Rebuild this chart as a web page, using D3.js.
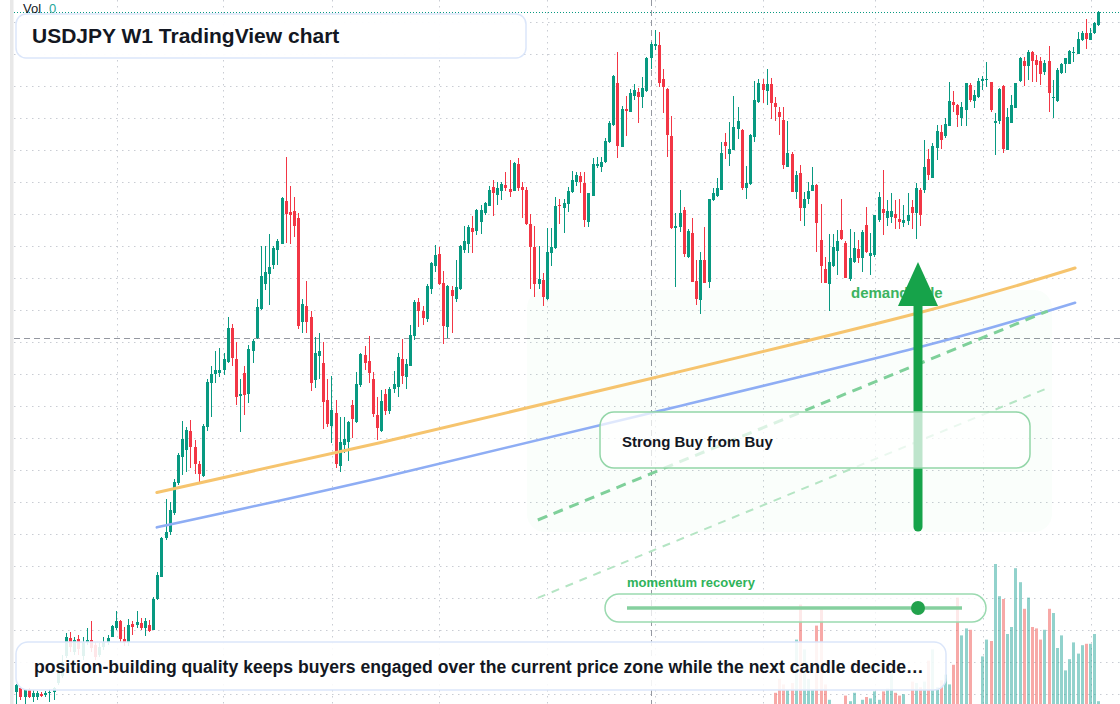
<!DOCTYPE html>
<html>
<head>
<meta charset="utf-8">
<script src="https://cdn.jsdelivr.net/npm/d3@7"></script>
<style>
  html, body { margin: 0; padding: 0; background: #fff; }
  svg { display: block; font-family: "Liberation Sans", Arial, Helvetica, sans-serif; }
</style>
</head>
<body>
<svg class="main" width="1120" height="704"></svg>
<script>
// weekly candles, oldest first: [open, high, low, close]
const candles = [
  [120.17,120.65,119.28,120.59],[120.42,120.48,119.65,119.86],[119.86,120.34,119.28,120.28],[120.28,120.38,119.78,119.82],
  [119.86,120.28,119.54,120.07],[119.86,120.23,119.65,120.07],[120.03,120.17,119.86,119.92],[119.94,120.23,119.86,120.11],
  [120.07,120.32,119.54,120.17],[120.17,120.48,119.65,120.38],[120.71,121.53,120.59,121.34],[121.15,122.46,121.03,122.04],
  [122.40,123.82,122.28,123.61],[123.54,123.90,122.67,122.98],[122.67,123.61,122.46,123.40],[123.46,123.71,122.46,122.84],
  [122.40,123.61,122.15,123.29],[123.29,124.13,123.09,123.40],[123.40,124.59,122.65,122.90],[123.09,123.28,122.15,122.36],
  [122.46,123.21,122.34,122.98],[122.98,123.61,122.78,123.29],[123.29,123.71,123.09,123.51],[123.61,124.34,123.57,124.28],
  [124.13,125.23,124.03,124.59],[124.59,124.65,123.29,123.44],[123.44,124.23,123.03,123.29],[123.29,124.69,123.03,124.34],
  [124.40,124.59,123.71,124.23],[124.34,125.23,124.13,124.54],[124.48,124.76,124.03,124.13],[124.13,124.76,123.65,124.59],
  [124.34,124.65,123.92,123.98],[124.03,126.06,124.00,125.96],[125.96,127.67,125.93,127.46],[127.36,129.86,127.34,129.76],
  [129.76,132.19,129.65,130.17],[130.17,132.04,129.96,131.53],[131.32,133.44,131.20,133.29],[133.19,135.07,133.09,134.96],
  [134.86,137.09,133.71,135.96],[135.28,136.73,133.92,136.53],[136.46,137.15,134.13,135.48],[135.48,135.90,133.76,134.40],
  [134.40,134.59,133.26,133.76],[133.65,136.90,133.61,136.79],[136.73,139.73,136.48,139.54],[139.48,140.53,137.32,140.03],
  [140.01,141.46,139.48,140.28],[140.11,141.63,139.82,140.28],[140.28,141.32,139.96,140.96],[140.79,143.61,140.70,142.88],
  [142.88,143.13,140.54,141.01],[140.96,142.04,138.09,138.61],[138.65,139.71,136.42,138.78],[140.07,140.53,137.46,138.71],
  [138.78,141.84,138.19,141.59],[141.48,142.21,140.73,142.09],[142.26,144.71,142.19,144.19],[144.09,148.03,144.03,146.15],
  [145.65,148.03,145.28,146.40],[146.28,148.78,144.34,146.73],[146.84,148.03,146.59,147.88],[147.78,148.44,146.84,148.34],
  [148.15,151.11,148.12,151.04],[150.84,153.61,148.19,150.03],[150.17,151.79,148.15,149.96],[150.21,151.11,148.61,149.28],
  [149.79,150.11,142.82,143.03],[143.29,144.71,142.57,144.38],[144.29,145.86,142.57,143.29],[143.61,143.98,138.98,139.48],
  [139.65,142.36,139.13,141.36],[141.17,142.61,139.69,141.48],[140.73,142.04,136.57,138.29],[138.40,139.69,136.73,136.90],
  [136.79,139.90,135.73,137.78],[137.61,138.40,134.13,134.38],[134.29,137.36,133.92,135.79],[135.59,137.36,135.07,135.96],
  [135.79,137.09,134.61,137.04],[138.09,138.40,136.01,137.19],[137.04,140.17,136.95,139.40],[139.34,141.35,139.23,141.28],
  [141.21,141.78,140.28,140.69],[140.86,142.40,139.44,140.07],[139.71,140.17,137.36,137.53],[137.46,138.61,135.90,136.63],
  [136.48,139.03,136.42,138.34],[138.78,139.09,137.46,137.73],[137.73,139.23,137.53,139.09],[139.09,140.21,138.82,139.40],
  [139.19,141.36,138.57,141.11],[140.94,142.21,139.40,139.92],[139.82,140.94,139.09,140.65],[140.54,143.09,140.50,142.46],
  [142.42,144.65,142.15,144.51],[144.51,144.78,142.94,143.98],[143.98,144.29,143.09,143.51],[143.46,145.63,143.29,145.54],
  [145.34,147.01,145.03,146.94],[146.78,148.09,146.42,147.46],[147.53,147.98,145.59,145.65],[145.69,146.46,141.88,143.04],
  [142.98,145.59,142.26,145.54],[145.28,145.53,142.57,144.90],[144.71,147.15,144.54,145.44],[145.34,148.06,145.28,148.03],
  [147.78,149.28,147.57,148.34],[148.15,149.34,147.61,149.19],[149.13,149.90,147.61,148.92],[148.98,150.32,148.71,150.28],
  [149.54,150.59,148.78,150.28],[150.11,150.79,149.96,150.73],[150.53,151.79,150.50,151.53],[151.73,152.15,149.90,151.36],
  [151.21,152.04,150.59,151.67],[151.48,152.01,150.90,151.88],[151.84,152.63,151.48,151.67],[151.57,153.40,151.11,151.42],
  [151.48,153.29,151.45,153.23],[153.15,153.51,151.46,151.67],[151.69,152.01,149.79,151.53],[151.53,151.73,149.34,149.40],
  [149.40,150.03,145.34,147.98],[147.98,149.28,144.86,145.65],[145.65,148.03,145.34,145.94],[145.90,146.36,144.29,144.82],
  [144.69,149.13,144.65,147.63],[147.61,149.13,146.79,147.98],[147.88,151.11,147.84,150.53],[150.59,150.94,149.40,150.53],
  [150.42,150.94,148.82,150.73],[150.65,151.69,150.13,151.48],[151.38,152.73,151.32,152.15],[152.04,152.67,151.78,152.46],
  [152.42,152.67,151.36,152.04],[151.98,152.67,149.23,149.65],[149.54,151.36,149.23,151.32],[151.17,153.51,151.15,153.15],
  [153.04,153.61,152.88,153.13],[152.98,153.61,152.67,153.29],[153.26,154.76,153.19,154.59],[154.54,155.84,154.44,155.73],
  [155.59,158.71,155.54,158.67],[158.19,160.17,153.54,154.29],[154.23,156.78,154.20,156.59],[156.56,157.40,154.92,156.49],
  [156.42,157.82,156.38,157.57],[157.40,158.15,157.15,157.78],[157.63,157.88,155.69,157.36],[157.36,158.61,156.63,157.88],
  [157.73,159.86,157.67,159.79],[159.76,160.79,159.09,160.63],[160.54,161.53,160.28,160.63],[160.59,161.38,157.94,158.23],
  [158.46,159.09,156.32,157.98],[157.84,157.92,153.61,154.96],[154.90,156.15,149.10,149.17],[149.13,150.07,145.44,149.29],
  [149.23,151.53,148.92,150.07],[150.28,150.48,147.32,147.53],[147.36,149.07,147.26,148.98],[148.86,149.76,145.75,145.79],
  [145.84,147.15,144.34,144.69],[144.65,147.63,143.78,147.15],[147.15,149.19,145.70,145.73],[145.79,150.97,145.38,150.94],
  [150.90,151.63,150.84,151.36],[151.15,152.26,151.11,151.63],[151.53,154.51,151.50,153.82],[154.54,155.07,153.46,154.29],
  [153.78,155.79,153.04,154.07],[154.03,157.40,154.00,155.48],[155.34,156.73,154.71,155.84],[155.28,155.31,151.53,151.63],
  [151.67,153.03,150.96,151.98],[151.88,155.03,151.84,154.96],[154.86,158.34,154.54,157.15],[157.04,158.44,156.94,158.19],
  [158.15,158.46,156.94,157.78],[157.73,159.07,156.84,158.15],[158.15,158.51,155.96,156.98],[156.98,157.36,155.86,156.73],
  [156.38,156.73,154.96,156.11],[155.90,156.69,152.82,153.09],[152.98,155.86,152.95,153.82],[153.78,153.88,151.40,151.42],
  [151.42,152.73,150.94,152.46],[152.57,153.09,149.61,150.42],[150.38,151.42,149.28,150.96],[150.96,152.04,150.65,151.46],
  [151.48,152.98,151.45,151.84],[151.84,151.87,147.67,149.48],[148.40,150.65,145.73,146.79],[146.59,147.32,145.69,145.73],
  [145.65,148.78,143.98,147.01],[146.79,148.78,146.73,147.98],[147.73,149.03,146.21,148.36],[149.03,150.96,148.40,148.44],
  [148.23,148.36,146.01,146.04],[145.94,149.09,145.86,147.26],[147.04,148.88,146.94,147.92],[147.84,148.40,146.94,147.29],
  [147.26,149.03,146.42,148.92],[149.34,150.44,147.61,147.67],[147.42,148.82,146.21,147.57],[147.46,149.99,147.36,149.96],
  [149.65,151.42,149.54,151.11],[150.32,152.78,148.71,150.11],[149.79,150.90,149.28,150.21],[149.86,151.32,149.48,150.23],
  [150.01,150.90,149.07,149.76],[149.71,150.96,149.07,149.54],[149.48,150.59,149.23,149.65],[149.61,151.32,149.34,149.96],
  [150.44,150.90,149.07,150.07],[150.07,151.98,148.44,151.63],[151.53,151.63,149.28,149.96],[151.53,154.65,151.32,152.98],
  [153.44,154.09,152.15,152.46],[152.29,154.44,152.26,154.29],[154.17,155.59,153.40,155.21],[155.13,155.59,154.09,154.65],
  [154.92,156.01,154.76,155.65],[155.53,158.29,155.50,157.09],[157.04,157.73,156.42,156.84],[156.84,156.90,155.48,156.21],
  [156.01,157.04,155.54,156.69],[156.53,158.22,155.54,158.19],[158.09,158.19,157.04,157.15],[157.09,157.78,156.63,157.46],
  [157.36,158.54,157.26,158.34],[158.34,158.65,157.78,158.49],[158.43,159.54,157.94,158.49],[158.26,158.29,156.42,156.53],
  [155.69,156.34,153.71,155.84],[155.86,157.88,155.65,157.82],[158.03,158.09,153.86,154.09],[154.03,156.63,154.00,156.07],
  [155.73,157.46,155.70,156.84],[156.67,158.22,156.63,158.19],[158.34,159.82,158.29,159.79],[159.59,159.86,158.03,159.28],
  [159.28,160.28,158.40,160.17],[160.13,160.21,158.29,159.59],[159.65,159.96,158.29,159.34],[159.59,159.86,158.09,158.78],
  [158.92,159.65,158.71,159.48],[159.59,160.54,156.42,157.61],[157.32,158.40,156.04,157.36],[157.11,159.13,157.04,159.03],
  [158.82,159.44,158.78,159.38],[159.38,159.79,158.86,159.76],[159.38,160.28,159.37,160.21],[160.13,160.48,159.54,160.17],
  [160.03,161.38,160.00,160.96],[160.90,161.46,160.86,161.36],[161.36,162.19,160.34,160.96],[160.90,161.67,160.87,161.36],
  [161.32,162.04,161.26,161.94],[161.84,162.73,161.78,162.67]
];

// volume only exists for the most recent bars; volStart is the bar index of volumes[0]
const volStart = 183;
const volumes = [
  8,18,14,10,15,46,71,39,18,10, 56,68,14,3,0,0,0,6,2,8,
  0,3,5,4,9,3,9,11,22,8, 6,7,0,16,15,12,16,31,39,12,
  17,21,14,28,76,49,54,53,0,0, 34,46,45,100,77,75,50,55,97,87,
  68,76,55,54,46,53,68,65,40,49, 24,32,44,36,42,43,43,50,2
];

// price grid and the half-year time grid (bar index)
const priceTicks = [120,122,124,126,128,130,132,134,136,138,140,142,144,146,148,150,152,154,156,158,160,162];
const timeGrid = [24.2, 49.9, 76.1, 102.0, 128.1, 154.0, 180.1, 207.2, 233.1, 259.2];

// overlay lines as [bar index, price]
const slowLine = [[33.9,132.62],[87.7,135.73],[153.1,139.74],[218.0,143.87],[255.4,146.65]];
const fastLine = [[33.9,130.44],[87.7,133.53],[153.1,137.59],[218.0,141.71],[255.4,144.48]];
const channelUpper = [[125.8,130.90],[248.8,143.96]];
const channelLower = [[125.8,126.03],[248.8,139.15]];
const crossBar = 153, crossPrice = 142.26;

const svg = d3.select("svg.main");
const W = +svg.attr("width");
const H = +svg.attr("height");

const x = d3.scaleLinear().domain([0, candles.length - 1]).range([16.3, 1098.3]);
const y = d3.scaleLinear().domain([119.4, 163.4]).range([H, 0]);
const yVol = d3.scaleLinear().domain([0, 100]).range([H, 564]);

const upColor = "#089981";
const downColor = "#f23645";
const px = v => Math.round(v) + 0.5;

// left strip (cut price scale)
svg.append("rect").attr("x", 10).attr("y", 0).attr("width", 3.5).attr("height", H).attr("fill", "#e8e8e8");

// grid
const grid = svg.append("g").attr("stroke", "#c9ccd3").attr("stroke-width", 1).attr("stroke-dasharray", "1.5,4.5");
grid.selectAll("line.h").data(priceTicks).join("line")
    .attr("x1", 14).attr("x2", W)
    .attr("y1", d => px(y(d))).attr("y2", d => px(y(d)));
grid.selectAll("line.v").data(timeGrid).join("line")
    .attr("x1", d => px(x(d))).attr("x2", d => px(x(d)))
    .attr("y1", 0).attr("y2", H);

// crosshair
const cross = svg.append("g").attr("stroke", "#9598a1").attr("stroke-width", 1).attr("stroke-dasharray", "6,4");
cross.append("line").attr("x1", px(x(crossBar))).attr("x2", px(x(crossBar))).attr("y1", 0).attr("y2", H);
cross.append("line").attr("x1", 14).attr("x2", W).attr("y1", px(y(crossPrice))).attr("y2", px(y(crossPrice)));

// demand zone shade
svg.append("rect")
    .attr("x", 527).attr("y", 290).attr("width", 525).attr("height", 242).attr("rx", 18)
    .attr("fill", "rgba(34,197,94,0.022)");

// volume
svg.append("g").selectAll("rect").data(volumes).join("rect")
    .attr("x", (d, i) => Math.round(x(volStart + i)) - 1)
    .attr("width", 3)
    .attr("y", d => yVol(d))
    .attr("height", d => H - yVol(d))
    .attr("fill", (d, i) => {
        const c = candles[volStart + i];
        return c[3] >= c[0] ? "rgba(38,166,154,0.5)" : "rgba(239,83,80,0.5)";
    });

// candles
const bars = svg.append("g").attr("shape-rendering", "crispEdges").selectAll("g").data(candles).join("g")
    .attr("fill", d => d[3] >= d[0] ? upColor : downColor)
    .attr("stroke", d => d[3] >= d[0] ? upColor : downColor);
bars.append("line")
    .attr("x1", (d, i) => px(x(i))).attr("x2", (d, i) => px(x(i)))
    .attr("y1", d => y(d[1])).attr("y2", d => y(d[2]))
    .attr("stroke-width", 1);
bars.append("rect")
    .attr("stroke", "none")
    .attr("x", (d, i) => Math.round(x(i)) - 1)
    .attr("width", 3)
    .attr("y", d => y(Math.max(d[0], d[3])))
    .attr("height", d => Math.max(1, Math.abs(y(d[0]) - y(d[3]))));

// last price line
const last = candles[candles.length - 1][3];
svg.append("line")
    .attr("x1", 14).attr("x2", W).attr("y1", px(y(last))).attr("y2", px(y(last)))
    .attr("stroke", upColor).attr("stroke-width", 1).attr("stroke-dasharray", "1,2");

// moving lines
const curve = d3.line().x(d => x(d[0])).y(d => y(d[1])).curve(d3.curveNatural);
svg.append("path").attr("d", curve(slowLine)).attr("fill", "none")
    .attr("stroke", "#f6c46e").attr("stroke-width", 3).attr("stroke-linecap", "round");
svg.append("path").attr("d", curve(fastLine)).attr("fill", "none")
    .attr("stroke", "#8eadf4").attr("stroke-width", 2.6).attr("stroke-linecap", "round");

// channel
const straight = d3.line().x(d => x(d[0])).y(d => y(d[1]));
svg.append("path").attr("d", straight(channelUpper)).attr("fill", "none")
    .attr("stroke", "#7fd09a").attr("stroke-width", 3).attr("stroke-dasharray", "10,7");
svg.append("path").attr("d", straight(channelLower)).attr("fill", "none")
    .attr("stroke", "#b5e5c4").attr("stroke-width", 2).attr("stroke-dasharray", "8,7");

// demand label + arrow
svg.append("text").attr("x", 851).attr("y", 298)
    .attr("font-size", 15).attr("font-weight", "bold").attr("fill", "#3bb35f")
    .text("demand side");
svg.append("line").attr("x1", 918).attr("x2", 918).attr("y1", 527).attr("y2", 300)
    .attr("stroke", "#16a34a").attr("stroke-width", 9).attr("stroke-linecap", "round");
svg.append("path").attr("d", "M918,262 L938,306 L898,306 Z").attr("fill", "#16a34a");

// strong buy box
svg.append("rect").attr("x", 600).attr("y", 412).attr("width", 430).attr("height", 56).attr("rx", 14)
    .attr("fill", "rgba(255,255,255,0.72)").attr("stroke", "#93d6a8").attr("stroke-width", 1.5);
svg.append("text").attr("x", 622).attr("y", 447)
    .attr("font-size", 15).attr("font-weight", "bold").attr("fill", "#131722")
    .text("Strong Buy from Buy");

// momentum gauge
svg.append("text").attr("x", 627).attr("y", 587)
    .attr("font-size", 13).attr("font-weight", "bold").attr("fill", "#2fb35a")
    .text("momentum recovery");
svg.append("rect").attr("x", 605).attr("y", 594).attr("width", 381).attr("height", 28).attr("rx", 14)
    .attr("fill", "rgba(255,255,255,0.75)").attr("stroke", "#9bdab0").attr("stroke-width", 1.5);
svg.append("line").attr("x1", 627).attr("x2", 962).attr("y1", 608).attr("y2", 608)
    .attr("stroke", "#86d09f").attr("stroke-width", 3.5);
svg.append("circle").attr("cx", 918).attr("cy", 608).attr("r", 7).attr("fill", "#22a24c");

// bottom commentary
svg.append("rect").attr("x", 16).attr("y", 642).attr("width", 930).attr("height", 48).attr("rx", 12)
    .attr("fill", "rgba(255,255,255,0.88)").attr("stroke", "#dbe6fa").attr("stroke-width", 1.5);
svg.append("text").attr("x", 34).attr("y", 673)
    .attr("font-size", 17.6).attr("font-weight", "bold").attr("fill", "#131722")
    .text("position-building quality keeps buyers engaged over the current price zone while the next candle decide\u2026");

// title
svg.append("rect").attr("x", 16).attr("y", 14).attr("width", 510).attr("height", 44).attr("rx", 10)
    .attr("fill", "rgba(255,255,255,0.96)").attr("stroke", "#dbe6fa").attr("stroke-width", 1.5);
svg.append("text").attr("x", 32).attr("y", 43)
    .attr("font-size", 21).attr("font-weight", "bold").attr("fill", "#131722")
    .text("USDJPY W1 TradingView chart");

// volume legend
const leg = svg.append("text").attr("x", 23).attr("y", 13).attr("font-size", 13);
leg.append("tspan").attr("fill", "#131722").text("Vol");
leg.append("tspan").attr("dx", 8).attr("fill", "#26a69a").text("0");
</script>
</body>
</html>
